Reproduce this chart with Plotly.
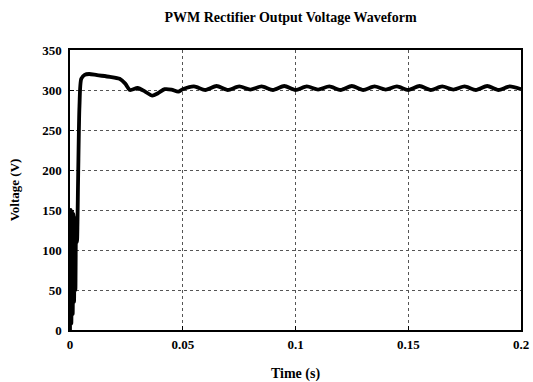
import plotly.graph_objects as go

# Time (s) and output voltage (V)
time_s = [0.0, 0.0003, 0.0006, 0.0009, 0.0012, 0.0015, 0.0018, 0.0021, 0.0024, 0.0027,
          0.0031, 0.0036, 0.0042, 0.0050, 0.0065, 0.0085, 0.012, 0.0177, 0.022, 0.0245,
          0.0266, 0.030, 0.0333, 0.0365, 0.039, 0.042, 0.045, 0.048,
          0.050, 0.055, 0.060, 0.065, 0.070, 0.075, 0.080, 0.085, 0.090, 0.095,
          0.100, 0.105, 0.110, 0.115, 0.120, 0.125, 0.130, 0.135, 0.140, 0.145,
          0.150, 0.155, 0.160, 0.165, 0.170, 0.175, 0.180, 0.185, 0.190, 0.195, 0.200]
voltage_v = [0, 150, 8, 148, 20, 145, 35, 140, 50, 130,
             110, 190, 280, 314, 319, 320, 318.5, 316.5, 314, 308,
             300, 302.5, 298, 293, 296, 301, 300.5, 298,
             301, 304.5, 300, 305, 300, 304.5, 300.5, 304.5, 300, 305,
             300, 304.5, 300.5, 304.5, 300, 305, 300, 304.5, 300.5, 304.5,
             300, 305, 300, 304.5, 300.5, 304.5, 300, 305, 300, 304.5, 301]

x_ticks = [0, 0.05, 0.1, 0.15, 0.2]
x_tick_labels = ["0", "0.05", "0.1", "0.15", "0.2"]
y_ticks = [0, 50, 100, 150, 200, 250, 300, 350]

font_family = "Liberation Serif, Times New Roman, serif"

fig = go.Figure()
fig.add_trace(go.Scatter(
    x=time_s, y=voltage_v, mode="lines",
    line=dict(color="black", width=3.8, shape="spline", smoothing=0.7),
    showlegend=False,
))

axis_common = dict(
    showline=True, linecolor="black", linewidth=1.5, mirror=True,
    showgrid=True, gridcolor="#555555", griddash="dot", gridwidth=1,
    zeroline=False, ticks="inside", ticklen=4, tickcolor="black",
    automargin=False,
    tickfont=dict(family=font_family, size=13, color="black", weight="bold"),
)

fig.update_layout(
    width=533, height=382,
    margin=dict(l=70, r=12, t=50, b=52),
    paper_bgcolor="white", plot_bgcolor="white",
    title=dict(text="<b>PWM Rectifier Output Voltage Waveform</b>",
               x=0.545, xanchor="center", y=0.955, yanchor="middle",
               font=dict(family=font_family, size=14, color="black")),
    xaxis=dict(range=[0, 0.2], tickvals=x_ticks, ticktext=x_tick_labels,
               ticklabelstandoff=2,
               title=dict(text="<b>Time (s)</b>", standoff=19,
                          font=dict(family=font_family, size=14, color="black")),
               **axis_common),
    yaxis=dict(range=[0, 350], tickvals=y_ticks, ticklabelstandoff=4,
               title=dict(text="<b>Voltage (V)</b>", standoff=20,
                          font=dict(family=font_family, size=13, color="black")),
               **axis_common),
)

fig.write_html("out.html")
